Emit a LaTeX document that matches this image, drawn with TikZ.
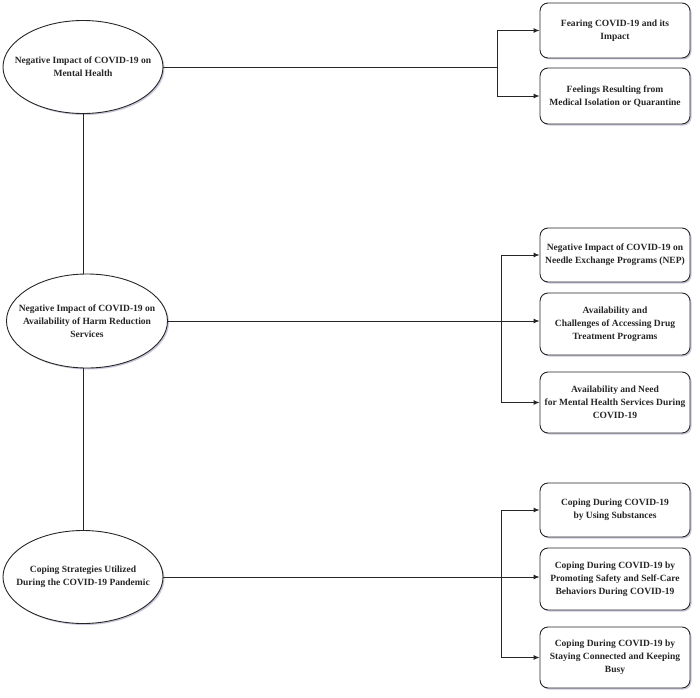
\documentclass[tikz,border=0pt]{standalone}
\usepackage{fontspec}
\setmainfont{Liberation Serif}
\usetikzlibrary{shapes.geometric,arrows.meta,shadows}
\begin{document}
\begin{tikzpicture}[x=1bp,y=-1bp,
  txt/.style={font=\bfseries\fontsize{9.55}{12.9}\selectfont,align=center,text=black!85},
  theme/.style={txt,ellipse,draw=black!85,line width=0.9pt,fill=white,
    minimum width=160bp,minimum height=93bp,inner xsep=-25bp,inner ysep=0pt,
    drop shadow={shadow xshift=1.5bp,shadow yshift=-1.5bp,fill=blue!20!gray!60,opacity=0.6}},
  sub/.style={txt,draw=black!85,line width=0.9pt,fill=white,rounded corners=8bp,
    minimum width=150bp,inner sep=0pt,
    drop shadow={shadow xshift=1.5bp,shadow yshift=-1.5bp,fill=blue!20!gray!60,opacity=0.6}},
  link/.style={draw=black!85,line width=0.9pt},
  arr/.style={link,-{Latex[length=6bp,width=5bp]}}]
\useasboundingbox (0,0) rectangle (700,698);
% themes
\node[theme] (e1) at (83,67) {Negative Impact of COVID-19 on\\Mental Health};
\node[theme,minimum width=161bp,minimum height=94bp] (e2) at (87,321) {Negative Impact of COVID-19 on\\Availability of Harm Reduction\\Services};
\node[theme] (e3) at (83,577) {Coping Strategies Utilized\\During the COVID-19 Pandemic};
% subthemes
\node[sub,minimum height=55bp] (b1) at (615,30.5) {Fearing COVID-19 and its\\Impact};
\node[sub,minimum height=56bp] (b2) at (615,96) {Feelings Resulting from\\Medical Isolation or Quarantine};
\node[sub,minimum height=54bp] (b3) at (615,255) {Negative Impact of COVID-19 on\\Needle Exchange Programs (NEP)};
\node[sub,minimum height=62bp] (b4) at (615,324) {Availability and\\Challenges of Accessing Drug\\Treatment Programs};
\node[sub,minimum height=61bp] (b5) at (615,402.5) {Availability and Need\\for Mental Health Services During\\COVID-19};
\node[sub,minimum height=54bp] (b6) at (615,510) {Coping During COVID-19\\by Using Substances};
\node[sub,minimum height=62bp] (b7) at (615,579) {Coping During COVID-19 by\\Promoting Safety and Self-Care\\Behaviors During COVID-19};
\node[sub,minimum height=61bp] (b8) at (615,657.5) {Coping During COVID-19 by\\Staying Connected and Keeping\\Busy};
% branch coordinates
\coordinate (j1) at (497,0 |- e1.east);
\coordinate (j2) at (501,0 |- e2.east);
\coordinate (j3) at (501,0 |- e3.east);
% vertical spine
\draw[link] (e1.south) -- (e1.south |- e2.north);
\draw[link] (e1.south |- e2.south) -- (e1.south |- e3.north);
% group 1
\draw[link] (e1.east) -- (j1);
\draw[arr] (j1) |- (b1.west);
\draw[arr] (j1) |- (b2.west);
% group 2
\draw[link] (e2.east) -- (j2);
\draw[arr] (j2) |- (b3.west);
\draw[arr] (j2) -- (b4.west |- j2);
\draw[arr] (j2) |- (b5.west);
% group 3
\draw[link] (e3.east) -- (j3);
\draw[arr] (j3) |- (b6.west);
\draw[arr] (j3) -- (b7.west |- j3);
\draw[arr] (j3) |- (b8.west);
\end{tikzpicture}
\end{document}
